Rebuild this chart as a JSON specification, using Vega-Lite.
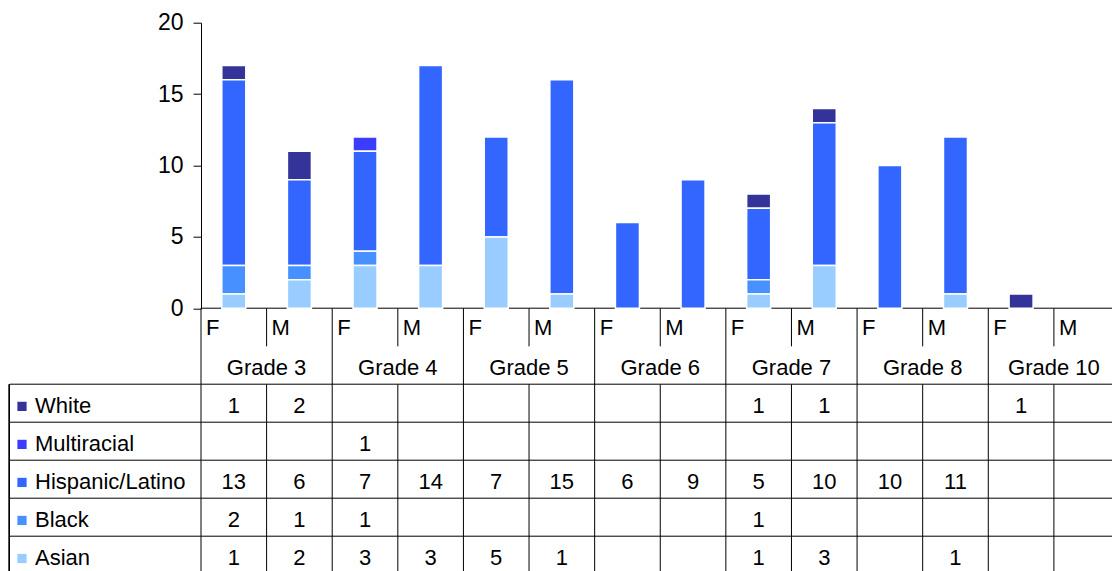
{
  "$schema": "https://vega.github.io/schema/vega-lite/v6.json",
  "width": 911,
  "height": 548.3,
  "autosize": "none",
  "padding": {"left": 201, "top": 22.7, "right": 0, "bottom": 0},
  "config": {
    "view": {"stroke": null},
    "font": "Liberation Sans",
    "text": {"font": "Liberation Sans", "fontSize": 22, "color": "black", "baseline": "middle"},
    "axis": {"labelFont": "Liberation Sans"}
  },
  "datasets": {
    "counts": [
      {"grade": "Grade 3", "sex": "F", "race": "White", "n": 1},
      {"grade": "Grade 3", "sex": "F", "race": "Hispanic/Latino", "n": 13},
      {"grade": "Grade 3", "sex": "F", "race": "Black", "n": 2},
      {"grade": "Grade 3", "sex": "F", "race": "Asian", "n": 1},
      {"grade": "Grade 3", "sex": "M", "race": "White", "n": 2},
      {"grade": "Grade 3", "sex": "M", "race": "Hispanic/Latino", "n": 6},
      {"grade": "Grade 3", "sex": "M", "race": "Black", "n": 1},
      {"grade": "Grade 3", "sex": "M", "race": "Asian", "n": 2},
      {"grade": "Grade 4", "sex": "F", "race": "Multiracial", "n": 1},
      {"grade": "Grade 4", "sex": "F", "race": "Hispanic/Latino", "n": 7},
      {"grade": "Grade 4", "sex": "F", "race": "Black", "n": 1},
      {"grade": "Grade 4", "sex": "F", "race": "Asian", "n": 3},
      {"grade": "Grade 4", "sex": "M", "race": "Hispanic/Latino", "n": 14},
      {"grade": "Grade 4", "sex": "M", "race": "Asian", "n": 3},
      {"grade": "Grade 5", "sex": "F", "race": "Hispanic/Latino", "n": 7},
      {"grade": "Grade 5", "sex": "F", "race": "Asian", "n": 5},
      {"grade": "Grade 5", "sex": "M", "race": "Hispanic/Latino", "n": 15},
      {"grade": "Grade 5", "sex": "M", "race": "Asian", "n": 1},
      {"grade": "Grade 6", "sex": "F", "race": "Hispanic/Latino", "n": 6},
      {"grade": "Grade 6", "sex": "M", "race": "Hispanic/Latino", "n": 9},
      {"grade": "Grade 7", "sex": "F", "race": "White", "n": 1},
      {"grade": "Grade 7", "sex": "F", "race": "Hispanic/Latino", "n": 5},
      {"grade": "Grade 7", "sex": "F", "race": "Black", "n": 1},
      {"grade": "Grade 7", "sex": "F", "race": "Asian", "n": 1},
      {"grade": "Grade 7", "sex": "M", "race": "White", "n": 1},
      {"grade": "Grade 7", "sex": "M", "race": "Hispanic/Latino", "n": 10},
      {"grade": "Grade 7", "sex": "M", "race": "Asian", "n": 3},
      {"grade": "Grade 8", "sex": "F", "race": "Hispanic/Latino", "n": 10},
      {"grade": "Grade 8", "sex": "M", "race": "Hispanic/Latino", "n": 11},
      {"grade": "Grade 8", "sex": "M", "race": "Asian", "n": 1},
      {"grade": "Grade 10", "sex": "F", "race": "White", "n": 1}
    ],
    "cols": [
      {"grade": "Grade 3", "sex": "F"}, {"grade": "Grade 3", "sex": "M"},
      {"grade": "Grade 4", "sex": "F"}, {"grade": "Grade 4", "sex": "M"},
      {"grade": "Grade 5", "sex": "F"}, {"grade": "Grade 5", "sex": "M"},
      {"grade": "Grade 6", "sex": "F"}, {"grade": "Grade 6", "sex": "M"},
      {"grade": "Grade 7", "sex": "F"}, {"grade": "Grade 7", "sex": "M"},
      {"grade": "Grade 8", "sex": "F"}, {"grade": "Grade 8", "sex": "M"},
      {"grade": "Grade 10", "sex": "F"}, {"grade": "Grade 10", "sex": "M"}
    ],
    "grades": [
      {"grade": "Grade 3"}, {"grade": "Grade 4"}, {"grade": "Grade 5"}, {"grade": "Grade 6"},
      {"grade": "Grade 7"}, {"grade": "Grade 8"}, {"grade": "Grade 10"}
    ],
    "races": [
      {"race": "White"}, {"race": "Multiracial"}, {"race": "Hispanic/Latino"}, {"race": "Black"}, {"race": "Asian"}
    ]
  },
  "layer": [
    {
      "data": {"name": "counts"},
      "mark": {"type": "bar", "stroke": "white", "strokeWidth": 1.5},
      "encoding": {
        "x": {"field": "grade", "type": "nominal", "axis": null,
              "scale": {"domain": ["Grade 3", "Grade 4", "Grade 5", "Grade 6", "Grade 7", "Grade 8", "Grade 10"], "range": [0, 918.5], "paddingInner": 0, "paddingOuter": 0}},
        "xOffset": {"field": "sex", "type": "nominal",
                    "scale": {"domain": ["F", "M"], "paddingInner": 0.634, "paddingOuter": 0.317}},
        "y": {"aggregate": "sum", "field": "n", "type": "quantitative",
              "scale": {"domain": [0, 20], "range": [285.6, 0], "nice": false},
              "axis": {"orient": "left", "values": [0, 5, 10, 15, 20], "title": null, "grid": false,
                       "tickSize": 8, "tickColor": "black", "domainColor": "black", "labelPadding": 10,
                       "labelFontSize": 23, "labelColor": "black"}},
        "color": {"field": "race", "type": "nominal", "legend": null,
                  "scale": {"domain": ["White", "Multiracial", "Hispanic/Latino", "Black", "Asian"],
                            "range": ["#333399", "#3C3CFF", "#3366FF", "#4691FF", "#99CCFF"]}},
        "order": {"field": "race", "sort": "ascending"}
      }
    },
    {
      "layer": [
        {
          "data": {"name": "grades"},
          "mark": {"type": "rule", "color": "black", "strokeWidth": 1},
          "encoding": {
            "x": {"field": "grade", "type": "nominal", "bandPosition": 0, "axis": null,
                  "scale": {"domain": ["Grade 3", "Grade 4", "Grade 5", "Grade 6", "Grade 7", "Grade 8", "Grade 10"], "range": [0, 918.5], "paddingInner": 0, "paddingOuter": 0}},
            "y": {"datum": "sex", "type": "nominal", "bandPosition": 0,
                  "scale": {"domain": ["sex", "grade", "White", "Multiracial", "Hispanic/Latino", "Black", "Asian"], "range": [285.6, 551.8], "paddingInner": 0, "paddingOuter": 0},
                  "axis": {"orient": "left", "bandPosition": 0, "title": null, "labels": false, "domain": false,
                           "grid": true, "gridWidth": 1,
                           "gridColor": {"condition": {"test": "datum.value === 'grade'", "value": "transparent"}, "value": "black"},
                           "ticks": true, "tickSize": 191.7, "tickWidth": 1,
                           "tickColor": {"condition": {"test": "datum.value === 'sex' || datum.value === 'grade'", "value": "transparent"}, "value": "black"}}},
            "y2": {"datum": "Asian", "bandPosition": 1}
          }
        },
        {
          "data": {"name": "grades"},
          "mark": {"type": "rule", "color": "black", "strokeWidth": 1},
          "encoding": {
            "x": {"field": "grade", "type": "nominal", "bandPosition": 0.5},
            "y": {"datum": "sex", "type": "nominal", "bandPosition": 0},
            "y2": {"datum": "sex", "bandPosition": 1}
          }
        },
        {
          "data": {"name": "grades"},
          "mark": {"type": "rule", "color": "black", "strokeWidth": 1},
          "encoding": {
            "x": {"field": "grade", "type": "nominal", "bandPosition": 0.5},
            "y": {"datum": "White", "type": "nominal", "bandPosition": 0},
            "y2": {"datum": "Asian", "bandPosition": 1}
          }
        },
        {
          "data": {"name": "cols"},
          "transform": [{"filter": "datum.sex === 'F'"}],
          "mark": {"type": "text", "align": "left", "dx": 5, "dy": 1},
          "encoding": {
            "x": {"field": "grade", "type": "nominal", "bandPosition": 0},
            "y": {"datum": "sex", "type": "nominal"},
            "text": {"field": "sex"}
          }
        },
        {
          "data": {"name": "cols"},
          "transform": [{"filter": "datum.sex === 'M'"}],
          "mark": {"type": "text", "align": "left", "dx": 5, "dy": 1},
          "encoding": {
            "x": {"field": "grade", "type": "nominal", "bandPosition": 0.5},
            "y": {"datum": "sex", "type": "nominal"},
            "text": {"field": "sex"}
          }
        },
        {
          "data": {"name": "grades"},
          "mark": {"type": "text", "align": "center", "dy": 3},
          "encoding": {
            "x": {"field": "grade", "type": "nominal"},
            "y": {"datum": "grade", "type": "nominal"},
            "text": {"field": "grade"}
          }
        },
        {
          "data": {"name": "counts"},
          "transform": [{"filter": "datum.sex === 'F'"}],
          "mark": {"type": "text", "align": "center", "dy": 3},
          "encoding": {
            "x": {"field": "grade", "type": "nominal", "bandPosition": 0.25},
            "y": {"field": "race", "type": "nominal"},
            "text": {"field": "n", "type": "quantitative"}
          }
        },
        {
          "data": {"name": "counts"},
          "transform": [{"filter": "datum.sex === 'M'"}],
          "mark": {"type": "text", "align": "center", "dy": 3},
          "encoding": {
            "x": {"field": "grade", "type": "nominal", "bandPosition": 0.75},
            "y": {"field": "race", "type": "nominal"},
            "text": {"field": "n", "type": "quantitative"}
          }
        }
      ]
    },
    {
      "data": {"name": "races"},
      "layer": [
        {
          "mark": {"type": "rule", "color": "black", "strokeWidth": 1},
          "encoding": {
            "x": {"datum": "label", "type": "nominal", "bandPosition": 0, "axis": null,
                  "scale": {"domain": ["label"], "range": [-191.7, 0], "paddingInner": 0, "paddingOuter": 0}},
            "y": {"datum": "White", "type": "nominal", "bandPosition": 0, "axis": null,
                  "scale": {"domain": ["sex", "grade", "White", "Multiracial", "Hispanic/Latino", "Black", "Asian"], "range": [285.6, 551.8], "paddingInner": 0, "paddingOuter": 0}},
            "y2": {"datum": "Asian", "bandPosition": 1}
          }
        },
        {
          "mark": {"type": "point", "shape": "square", "filled": true, "opacity": 1, "size": 85, "xOffset": 12.7, "yOffset": 3},
          "encoding": {
            "x": {"datum": "label", "type": "nominal", "bandPosition": 0},
            "y": {"field": "race", "type": "nominal"},
            "color": {"field": "race", "type": "nominal"}
          }
        },
        {
          "mark": {"type": "text", "align": "left", "dx": 25.7, "dy": 3},
          "encoding": {
            "x": {"datum": "label", "type": "nominal", "bandPosition": 0},
            "y": {"field": "race", "type": "nominal"},
            "text": {"field": "race"}
          }
        }
      ]
    }
  ],
  "resolve": {"scale": {"x": "independent", "y": "independent", "xOffset": "independent"}}
}
